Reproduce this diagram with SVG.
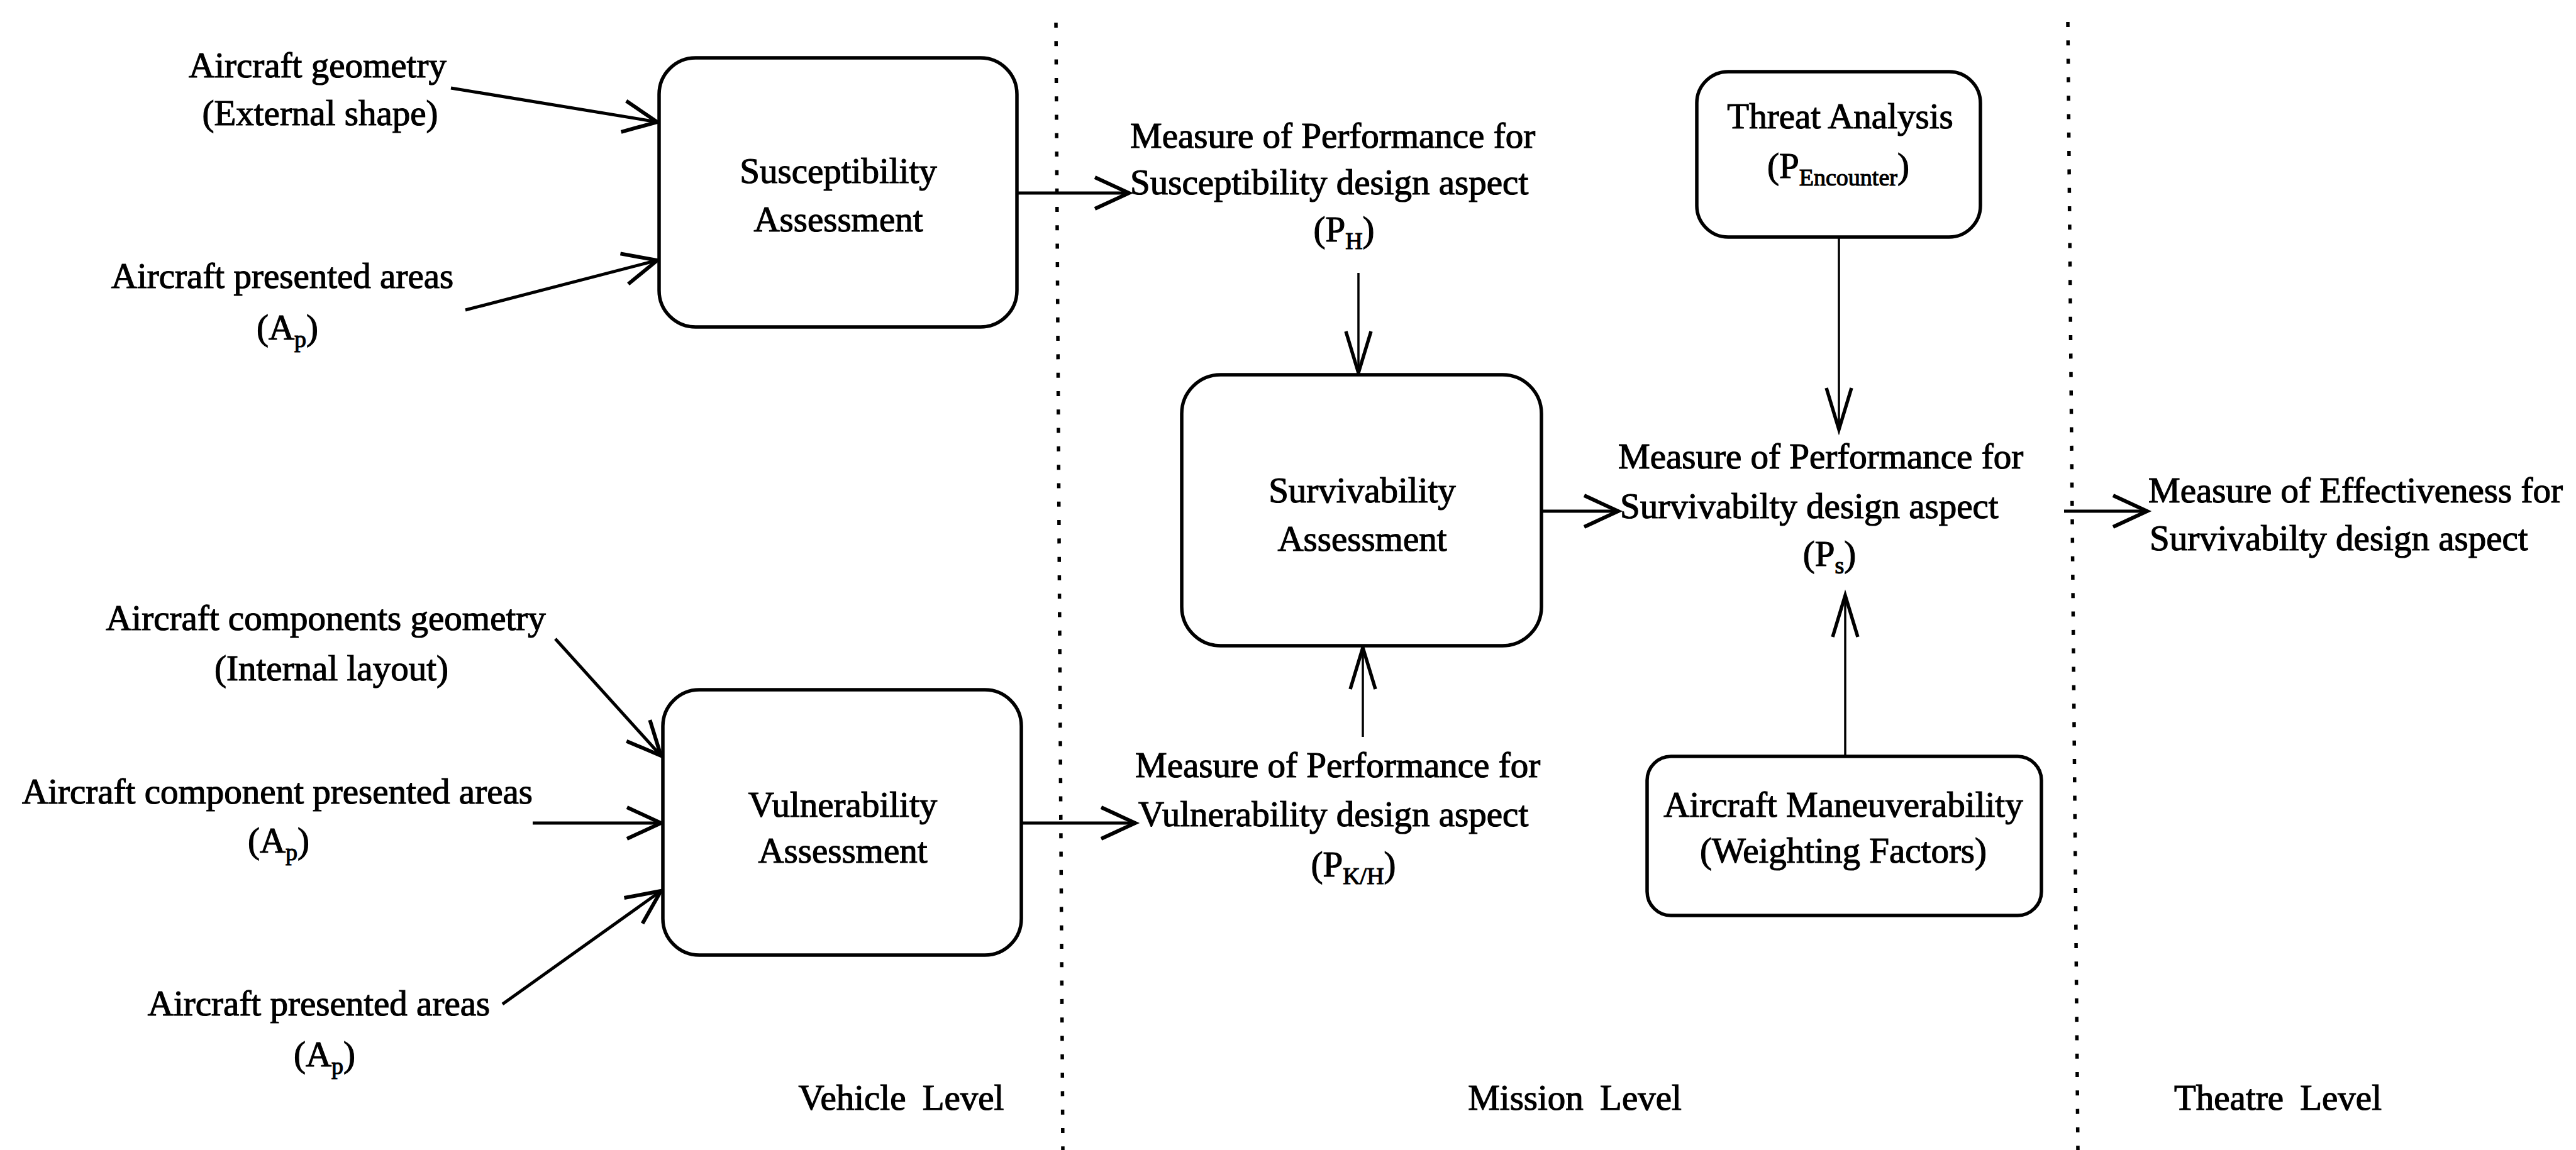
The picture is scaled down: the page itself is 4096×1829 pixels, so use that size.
<svg xmlns="http://www.w3.org/2000/svg" width="4096" height="1829" viewBox="0 0 4096 1829">
  <defs>
    <style>
      text { font-family: "Liberation Serif", "Times New Roman", serif; font-size: 57px; fill: #000; stroke: #000; stroke-width: 1.2; }
      .c { text-anchor: middle; }
      .sub { font-size: 38px; }
      .box { fill: #fff; stroke: #000; stroke-width: 5.5; }
      .conn { fill: none; stroke: #000; stroke-width: 5; }
      .vert { fill: none; stroke: #000; stroke-width: 3.5; }
      .dots { fill: none; stroke: #000; stroke-width: 5.5; stroke-dasharray: 8 21.3; }
    </style>
    <!-- open chevron heads: a wide one for horizontal/diagonal links, a slimmer one for vertical links -->
    <marker id="head" markerUnits="userSpaceOnUse" markerWidth="80" markerHeight="80" refX="56" refY="30" orient="auto" overflow="visible">
      <path d="M2,5 L56,30 L2,55" fill="none" stroke="#000" stroke-width="6"/>
    </marker>
    <marker id="headV" markerUnits="userSpaceOnUse" markerWidth="90" markerHeight="60" refX="66" refY="24" orient="auto" overflow="visible">
      <path d="M0,4 L66,24 L0,44" fill="none" stroke="#000" stroke-width="5.5"/>
    </marker>
  </defs>

  <rect width="4096" height="1829" fill="#fff"/>

  <!-- level separators -->
  <g id="separators">
    <line class="dots" x1="1679" y1="36" x2="1690" y2="1829"/>
    <line class="dots" x1="3288" y1="35" x2="3304" y2="1829"/>
  </g>

  <!-- connectors -->
  <g id="connectors">
    <line class="conn" x1="717" y1="140" x2="1045" y2="194" marker-end="url(#head)"/>
    <line class="conn" x1="740" y1="493" x2="1045" y2="414" marker-end="url(#head)"/>
    <line class="conn" x1="883" y1="1016" x2="1051" y2="1202" marker-end="url(#head)"/>
    <line class="conn" x1="847" y1="1309" x2="1051" y2="1309" marker-end="url(#head)"/>
    <line class="conn" x1="799" y1="1597" x2="1051" y2="1417" marker-end="url(#head)"/>
    <line class="conn" x1="1617" y1="307" x2="1795" y2="307" marker-end="url(#head)"/>
    <line class="conn" x1="1624" y1="1309" x2="1805" y2="1309" marker-end="url(#head)"/>
    <line class="conn" x1="2451" y1="813" x2="2573" y2="813" marker-end="url(#head)"/>
    <line class="conn" x1="3282" y1="813" x2="3414" y2="813" marker-end="url(#head)"/>
    <line class="vert" x1="2160" y1="434" x2="2160" y2="593" marker-end="url(#headV)"/>
    <line class="vert" x1="2167" y1="1172" x2="2167" y2="1030" marker-end="url(#headV)"/>
    <line class="vert" x1="2924" y1="377" x2="2924" y2="683" marker-end="url(#headV)"/>
    <line class="vert" x1="2934" y1="1203" x2="2934" y2="947" marker-end="url(#headV)"/>
  </g>

  <!-- vehicle level inputs -->
  <g id="in-aircraft-geometry">
    <text class="c" x="505" y="123">Aircraft geometry</text>
    <text class="c" x="509" y="199">(External shape)</text>
  </g>
  <g id="in-aircraft-areas">
    <text class="c" x="449" y="458">Aircraft presented areas</text>
    <text class="c" x="457" y="540">(A<tspan class="sub" dy="12">p</tspan><tspan dy="-12">)</tspan></text>
  </g>
  <g id="in-component-geometry">
    <text class="c" x="518" y="1002">Aircraft components geometry</text>
    <text class="c" x="527" y="1082">(Internal layout)</text>
  </g>
  <g id="in-component-areas">
    <text class="c" x="441" y="1278">Aircraft component presented areas</text>
    <text class="c" x="443" y="1356">(A<tspan class="sub" dy="12">p</tspan><tspan dy="-12">)</tspan></text>
  </g>
  <g id="in-aircraft-areas-2">
    <text class="c" x="507" y="1615">Aircraft presented areas</text>
    <text class="c" x="516" y="1696">(A<tspan class="sub" dy="12">p</tspan><tspan dy="-12">)</tspan></text>
  </g>

  <!-- assessment nodes -->
  <g id="susceptibility">
    <rect class="box" x="1048" y="92" width="569" height="428" rx="58"/>
    <text class="c" x="1333" y="291">Susceptibility</text>
    <text class="c" x="1333" y="368">Assessment</text>
  </g>
  <g id="vulnerability">
    <rect class="box" x="1054" y="1097" width="570" height="422" rx="58"/>
    <text class="c" x="1340" y="1299">Vulnerability</text>
    <text class="c" x="1340" y="1372">Assessment</text>
  </g>
  <g id="survivability">
    <rect class="box" x="1879" y="596" width="572" height="431" rx="62"/>
    <text class="c" x="2166" y="799">Survivability</text>
    <text class="c" x="2166" y="876">Assessment</text>
  </g>
  <g id="threat-analysis">
    <rect class="box" x="2698" y="114" width="451" height="263" rx="50"/>
    <text class="c" x="2926" y="204">Threat Analysis</text>
    <text class="c" x="2923" y="283">(P<tspan class="sub" dy="12">Encounter</tspan><tspan dy="-12">)</tspan></text>
  </g>
  <g id="maneuverability">
    <rect class="box" x="2619" y="1203" width="627" height="253" rx="38"/>
    <text class="c" x="2931" y="1299">Aircraft Maneuverability</text>
    <text class="c" x="2931" y="1372">(Weighting Factors)</text>
  </g>

  <!-- measures -->
  <g id="mop-susceptibility">
    <text x="1797" y="235">Measure of Performance for</text>
    <text x="1797" y="309">Susceptibility design aspect</text>
    <text class="c" x="2137" y="384">(P<tspan class="sub" dy="12">H</tspan><tspan dy="-12">)</tspan></text>
  </g>
  <g id="mop-vulnerability">
    <text x="1805" y="1236">Measure of Performance for</text>
    <text x="1810" y="1314">Vulnerability design aspect</text>
    <text class="c" x="2152" y="1394">(P<tspan class="sub" dy="12">K/H</tspan><tspan dy="-12">)</tspan></text>
  </g>
  <g id="mop-survivability">
    <text x="2573" y="745">Measure of Performance for</text>
    <text x="2576" y="824">Survivabilty design aspect</text>
    <text class="c" x="2909" y="900">(P<tspan class="sub" dy="12">s</tspan><tspan dy="-12">)</tspan></text>
  </g>
  <g id="moe-survivability">
    <text x="3416" y="799">Measure of Effectiveness for</text>
    <text x="3418" y="875">Survivabilty design aspect</text>
  </g>

  <!-- level captions -->
  <g id="levels">
    <text class="c" x="1433" y="1765" word-spacing="12">Vehicle Level</text>
    <text class="c" x="2504" y="1765" word-spacing="12">Mission Level</text>
    <text class="c" x="3622" y="1765" word-spacing="12">Theatre Level</text>
  </g>
</svg>
